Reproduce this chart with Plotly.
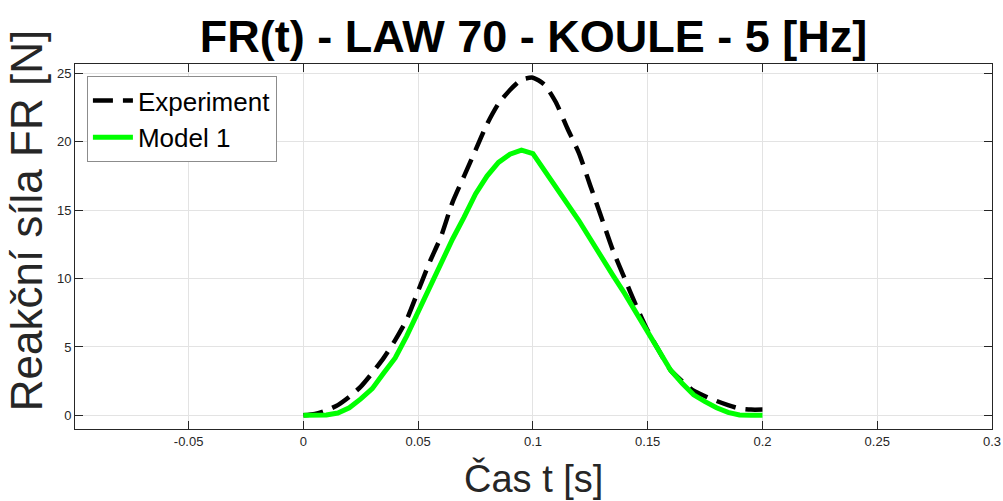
import plotly.graph_objects as go

# Time samples [s]
t = [0.000, 0.005, 0.010, 0.015, 0.020, 0.025, 0.030, 0.035, 0.040, 0.045,
     0.050, 0.055, 0.060, 0.065, 0.070, 0.075, 0.080, 0.085, 0.090, 0.095,
     0.100, 0.105, 0.110, 0.115, 0.120, 0.125, 0.130, 0.135, 0.140, 0.145,
     0.150, 0.155, 0.160, 0.165, 0.170, 0.175, 0.180, 0.185, 0.190, 0.195,
     0.200]

# Experiment [N]
experiment = [0.0, 0.1, 0.35, 0.75, 1.35, 2.1, 3.1, 4.2, 5.5, 7.0,
              9.1, 11.2, 13.1, 15.6, 17.5, 19.4, 21.3, 22.8, 23.8, 24.55,
              24.7, 24.2, 22.9, 21.0, 19.2, 16.8, 14.4, 12.0, 10.0, 8.0,
              6.2, 4.7, 3.3, 2.5, 1.8, 1.4, 1.05, 0.75, 0.5, 0.42,
              0.42]

# Model 1 [N]
model1 = [0.0, 0.0, 0.03, 0.17, 0.55, 1.2, 1.95, 3.1, 4.2, 5.8,
          7.6, 9.3, 11.3, 12.9, 14.5, 16.2, 17.5, 18.5, 19.1, 19.4,
          19.15, 17.95, 16.8, 15.55, 14.25, 12.9, 11.5, 10.2, 8.9, 7.5,
          6.0, 4.55, 3.3, 2.35, 1.5, 1.0, 0.55, 0.22, 0.03, 0.0,
          0.0]

x_ticks = [-0.05, 0, 0.05, 0.1, 0.15, 0.2, 0.25, 0.3]
x_tick_labels = ["-0.05", "0", "0.05", "0.1", "0.15", "0.2", "0.25", "0.3"]
y_ticks = [0, 5, 10, 15, 20, 25]
y_tick_labels = ["0", "5", "10", "15", "20", "25"]

FONT = "Liberation Sans, Arial, sans-serif"
AXC = "#262626"

fig = go.Figure()
fig.add_trace(go.Scatter(
    x=t, y=experiment, mode="lines", name="Experiment",
    line=dict(color="black", width=4.5, dash="20px,10px", shape="spline", smoothing=0.6),
))
fig.add_trace(go.Scatter(
    x=t, y=model1, mode="lines", name="Model 1",
    line=dict(color="#00FF00", width=5),
))

axis_common = dict(
    showline=True, linecolor=AXC, linewidth=1, mirror="allticks",
    ticks="inside", ticklen=8, tickcolor=AXC, tickwidth=1,
    showgrid=True, gridcolor="#e3e3e3", gridwidth=1,
    zeroline=False, automargin=False,
    tickfont=dict(family=FONT, size=13, color=AXC),
)

fig.update_layout(
    width=1003, height=501,
    margin=dict(l=75, r=11, t=64, b=72, autoexpand=False),
    paper_bgcolor="white", plot_bgcolor="white",
    title=dict(
        text="<b>FR(t) - LAW 70 - KOULE - 5 [Hz]</b>",
        font=dict(family=FONT, size=45, color="black"),
        x=(533.5 / 1003), xanchor="center",
        y=1 - 36 / 501, yanchor="middle", yref="container",
    ),
    xaxis=dict(
        range=[-0.0995, 0.3], tickvals=x_ticks, ticktext=x_tick_labels,
        **axis_common,
    ),
    yaxis=dict(
        range=[-1, 25.7], tickvals=y_ticks, ticktext=y_tick_labels,
        **axis_common,
    ),
    showlegend=True,
    legend=dict(
        x=0.013, y=0.967, xanchor="left", yanchor="top",
        bgcolor="white", bordercolor="#8c8c8c", borderwidth=1,
        font=dict(family=FONT, size=26, color="black"),
        itemwidth=40,
    ),
    annotations=[
        dict(text="Čas t [s]", xref="paper", yref="paper",
             x=0.5, y=-0.135, xanchor="center", yanchor="middle",
             showarrow=False, font=dict(family=FONT, size=38, color=AXC)),
        dict(text="Reakční síla FR [N]", xref="paper", yref="paper",
             x=-0.052, y=0.57, xanchor="center", yanchor="middle", textangle=-90,
             showarrow=False, font=dict(family=FONT, size=44, color=AXC)),
    ],
)

fig.write_html(
    "out.html",
    config={"displayModeBar": False},
    post_script="document.body.style.margin='0';document.body.style.overflow='hidden';",
)
